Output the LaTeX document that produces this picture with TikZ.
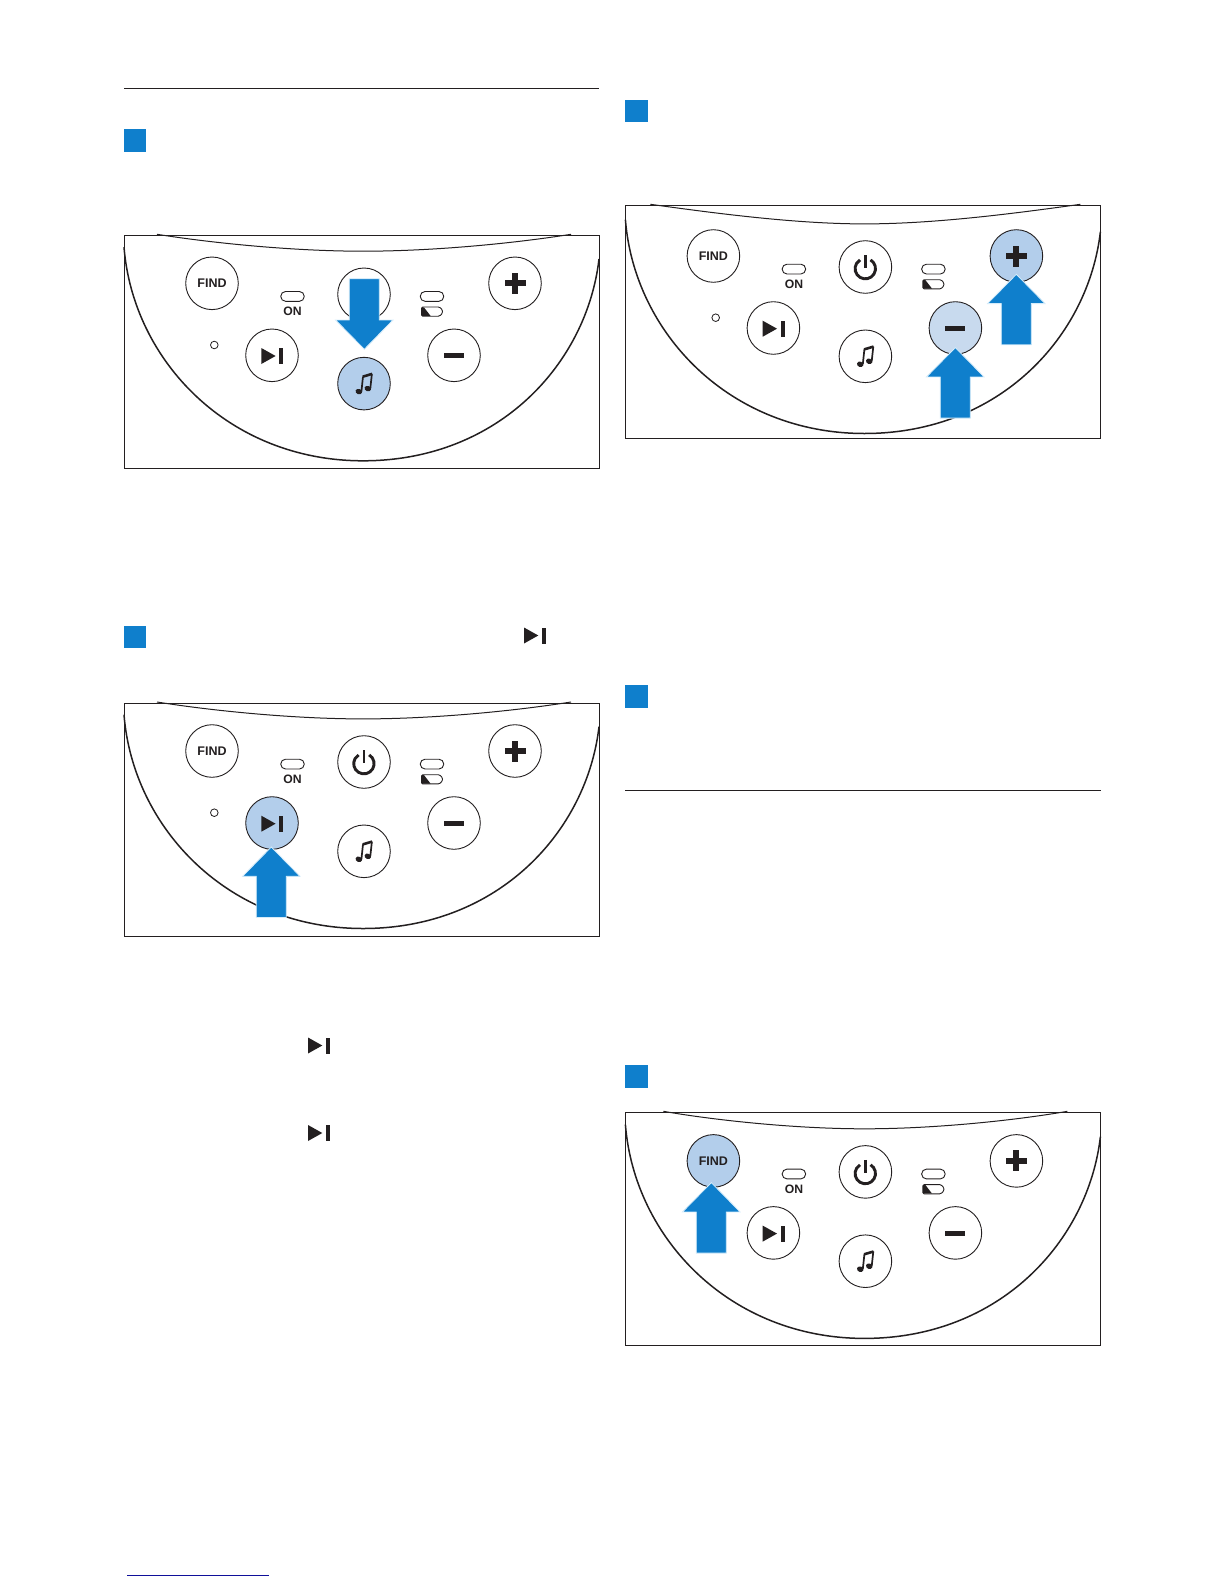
\documentclass[tikz,border=0pt]{standalone}
\usepackage{fontspec}
\setmainfont{Liberation Sans}
\definecolor{ink}{HTML}{231F20}
\definecolor{bluefill}{HTML}{0F7FCC}
\definecolor{halo}{HTML}{D5ECFA}
\definecolor{hl}{HTML}{B3CEEB}
\definecolor{hlsoft}{HTML}{C8DAEE}
\definecolor{navy}{HTML}{10109A}
\tikzset{
  x=1pt,y=-1pt,
  panelframe/.style={draw=ink,line width=0.9pt,fill=white},
  bodyline/.style={draw=ink,line width=1.5pt},
  topline/.style={draw=ink,line width=1pt},
  btn/.style={circle,draw=ink,line width=0.9pt,minimum size=52.6pt,inner sep=0pt,text height=9pt,text depth=0pt,font=\fontsize{12.5}{12.5}\selectfont\bfseries,text=ink},
  ledlabel/.style={inner sep=0pt,text height=8.7pt,text depth=0pt,font=\fontsize{12.2}{12.2}\selectfont\bfseries,text=ink},
  pill/.style={rounded corners=4.8pt,draw=ink,line width=0.9pt,minimum width=23.5pt,minimum height=9.8pt,inner sep=0pt},
  led/.style={circle,draw=ink,line width=0.8pt,minimum size=7.6pt,inner sep=0pt},
  marker/.style={fill=bluefill,draw=none},
  rulel/.style={draw=ink,line width=1pt},
  bigarrow/.style={fill=bluefill,draw=halo,line width=0.8pt,line join=miter},
}
\newcommand\nexticon[2]{% glyph centred on #1,#2
  \begin{scope}[shift={(#1,#2)}]
    \fill[ink] (-11,-8) -- (3.3,0) -- (-11,8) -- cycle;
    \fill[ink] (7,-8) rectangle (11,8);
  \end{scope}}
\newcommand\bluearrow[3]{% tip x, tip y, direction (1 up, -1 down)
  \begin{scope}[shift={(#1,#2)},yscale=#3]
    \path[bigarrow] (0,0) -- (28.7,29.3) -- (15,29.3) -- (15,70.5) -- (-15,70.5) -- (-15,29.3) -- (-28.7,29.3) -- cycle;
  \end{scope}}
\newcommand\controlpanel[9]{% name, x, y, dy, fills for find/next/music/plus/minus
  \begin{scope}[shift={(#2,#3)}]
    \draw[panelframe] (0,0) rectangle (475,233.5);
    \draw[topline] (\arcin,-1) .. controls (90,8) and (170,{15.2+#4}) .. (239,{15.2+#4}) .. controls (310,{15.2+#4}) and (390,8) .. ({480-\arcin},-1);
    \draw[bodyline] (0,{11+#4}) .. controls (9,{125+#4}) and (105,{224.8+#4}) .. (239,{224.8+#4}) .. controls (375,{224.8+#4}) and (463,{127+#4}) .. (475,{23+#4});
    \node[btn,fill=#5] (#1find) at (88,{47.3+#4}) {FIND};
    \node[btn,fill=white] (#1power) at (240,{58.3+#4}) {};
    \node[btn,fill=#8] (#1plus) at (391,{47.3+#4}) {};
    \node[btn,fill=#6] (#1next) at (148,{119.3+#4}) {};
    \node[btn,fill=#9] (#1minus) at (330,{119.3+#4}) {};
    \node[btn,fill=#7] (#1music) at (240,{147.6+#4}) {};
    \node[led] (#1led) at (90.3,{109+#4}) {};
    \node[pill] (#1onpill) at (168.5,{60.4+#4}) {};
    \node[pill] (#1batpill) at (308,{60.4+#4}) {};
    \node[ledlabel] (#1on) at (168.5,{75.6+#4}) {ON};
    \nexticon{148.3}{120.0+#4}
    % power
    \begin{scope}[shift={(240,{58.3+#4})}]
      \draw[ink,line width=2.9pt] (5.15,-7.1) arc[start angle=-59,end angle=239,radius=10.2];
      \draw[ink,line width=2.6pt] (0,-12) -- (0,1.2);
    \end{scope}
    % plus
    \fill[ink] (380.5,{44.3+#4}) rectangle (401.5,{50.3+#4});
    \fill[ink] (388,{36.8+#4}) rectangle (394,{57.8+#4});
    % minus
    \fill[ink] (320,{117+#4}) rectangle (340,{122+#4});
    % music
    \begin{scope}[shift={(240,{147.6+#4})}]
      \fill[ink,rotate around={-20:(-5.2,8)}] (-5.2,8) ellipse (3.3 and 2.7);
      \fill[ink,rotate around={-20:(3.8,5)}] (3.8,5) ellipse (3.3 and 2.7);
      \draw[ink,line width=1.7pt] (-2.6,8) -- (-1,-7);
      \draw[ink,line width=1.7pt] (6.3,5) -- (7.9,-9.8);
      \draw[ink,line width=2.6pt] (-1.3,-6.9) -- (8.1,-9.7);
    \end{scope}
    % battery
    \begin{scope}[shift={(308,{75.6+#4})}]
      \draw[ink,line width=0.9pt,rounded corners=1.2pt] (-10.5,-4.6) -- (7.5,-4.6) -- (10.5,-1.5) -- (10.5,1.5) -- (7.5,4.6) -- (-10.5,4.6) -- cycle;
      \fill[ink] (-10.2,-4.2) -- (-8,-4.2) -- (-1.5,4.2) -- (-10.2,4.2) -- cycle;
    \end{scope}
  \end{scope}}
\begin{document}
\begin{tikzpicture}
  \useasboundingbox (0,0) rectangle (1224,1584);
  \fill[white] (0,0) rectangle (1224,1584);

  % rules
  \coordinate (ruleAs) at (124,88.3); \coordinate (ruleAe) at (598.5,88.3);
  \draw[rulel] (ruleAs) -- (ruleAe);
  \coordinate (ruleBs) at (625,790); \coordinate (ruleBe) at (1100.5,790);
  \draw[rulel] (ruleBs) -- (ruleBe);
  \coordinate (ruleCs) at (127,1575); \coordinate (ruleCe) at (269,1575);
  \draw[navy,line width=1pt] (ruleCs) -- (ruleCe);

  % step markers
  \fill[marker] (124,129.2) rectangle (146,151.7);
  \fill[marker] (124,625.5) rectangle (146,648);
  \fill[marker] (625,100) rectangle (648,122);
  \fill[marker] (625,685) rectangle (648,708);
  \fill[marker] (625,1065) rectangle (648,1087.7);

  % inline glyphs
  \nexticon{535}{635.5}
  \nexticon{319}{1045.5}
  \nexticon{319}{1133}

  % panels
  \def\arcin{33}
  \controlpanel{a}{124}{235.3}{0.7}{white}{white}{hl}{white}{white}
  \controlpanel{b}{124}{703}{0.7}{white}{hl}{white}{white}{white}
  \def\arcin{25}
  \controlpanel{c}{625.4}{205.3}{3.4}{white}{white}{white}{hl}{hlsoft}
  \def\arcin{38}
  \controlpanel{d}{625.4}{1112.3}{1.3}{hl}{white}{white}{white}{white}

  % arrows
  \bluearrow{364.3}{349.3}{-1}
  \bluearrow{271.3}{847}{1}
  \bluearrow{1016.3}{274.3}{1}
  \bluearrow{955.3}{347.6}{1}
  \bluearrow{711.3}{1182.6}{1}
\end{tikzpicture}
\end{document}
